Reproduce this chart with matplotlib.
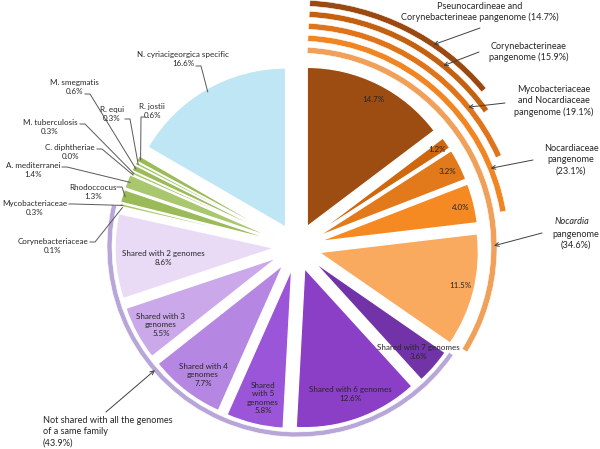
import math
import matplotlib.pyplot as plt
from matplotlib.patches import Wedge

W, H = 600, 449
plt.rcParams['font.family'] = ['Lato', 'DejaVu Sans']

# pie slices, clockwise from 12 o'clock
slice_names = [
    "Pseunocardineae and Corynebacterineae", "Corynebacterineae",
    "Mycobacteriaceae and Nocardiaceae", "Nocardiaceae", "Nocardia",
    "Shared with 7 genomes", "Shared with 6 genomes", "Shared with 5 genomes",
    "Shared with 4 genomes", "Shared with 3 genomes", "Shared with 2 genomes",
    "Corynebacteriaceae", "Mycobacteriaceae", "Rhodoccocus", "A. mediterranei",
    "C. diphtheriae", "M. tuberculosis", "M. smegmatis", "R. equi", "R. jostii",
    "N. cyriacigeorgica specific",
]
slice_values = [14.7, 1.2, 3.2, 4.0, 11.5,
                3.6, 12.6, 5.8, 7.7, 5.5, 8.6,
                0.1, 0.3, 1.3, 1.4, 0.0, 0.3, 0.6, 0.3, 0.6,
                16.6]
slice_colors = ["#9e4d12", "#cf670f", "#e27a1b", "#f68a22", "#f9aa5e",
                "#7233a8", "#8b3ec6", "#9b55d8", "#b586e2", "#caa8ea", "#e9dbf6",
                "#9bbb59", "#a9c76c", "#9bbb59", "#a9c76c", "#9bbb59",
                "#a9c76c", "#9bbb59", "#a9c76c", "#9bbb59",
                "#bfe6f4"]

# labels drawn inside the first 11 slices
inner_texts = ["14.7%", "1.2%", "3.2%", "4.0%", "11.5%",
               "Shared with 7 genomes\n3.6%", "Shared with 6 genomes\n12.6%",
               "Shared\nwith 5\ngenomes\n5.8%", "Shared with 4\ngenomes\n7.7%",
               "Shared with 3\ngenomes\n5.5%", "Shared with 2 genomes\n8.6%"]

# cumulative pangenome rings (start at 12 o'clock)
ring_labels = ["Pseunocardineae and\nCorynebacterineae pangenome (14.7%)",
               "Corynebacterineae\npangenome (15.9%)",
               "Mycobacteriaceae\nand Nocardiaceae\npangenome (19.1%)",
               "Nocardiaceae\npangenome\n(23.1%)",
               "pangenome\n(34.6%)"]
ring_values = [14.7, 15.9, 19.1, 23.1, 34.6]
ring_colors = ["#9a4a10", "#c2610f", "#e0741a", "#f08522", "#f0a058"]

shared_label = "Not shared with all the genomes\nof a same family\n(43.9%)"
shared_start = 34.6
shared_value = 43.9

# geometry (pixels, y up)
CX, CY = 297, H - 247
R = 159
EXPLODE = 23


def img(x, y):
    return (x, H - y)


def polar(r, ang):
    a = math.radians(ang)
    return (CX + r * math.cos(a), CY + r * math.sin(a))


fig = plt.figure(figsize=(6, 4.49), dpi=100)
ax = fig.add_axes([0, 0, 1, 1])

total = sum(slice_values)
ax.pie(slice_values, colors=slice_colors, startangle=90, counterclock=False,
       explode=[EXPLODE] * len(slice_values), radius=R, center=(CX, CY),
       wedgeprops=dict(edgecolor="white", linewidth=0.9), frame=True)

cum = 0
mids = []
for v in slice_values:
    mids.append(90 - 360 * (cum + v / 2) / total)
    cum += v

# --- inner labels ---
inner_pos = [(373, 99), (437, 150), (447, 172), (461, 207), (460, 285),
             (418, 352), (350, 394), (263, 398), (203, 375), (161, 325), (163, 258)]
for txt, (x, y) in zip(inner_texts, inner_pos):
    ax.text(*img(x, y), txt, ha="center", va="center", fontsize=5.8,
            color="#262626", linespacing=1.25)

# --- outer labels with leader lines ---
outer_idx = list(range(11, 21))
outer_pos = {  # label centre, leader start
    11: ((53, 246), (90, 242)),
    12: ((35, 208), (69, 204)),
    13: ((93, 192), (117, 187)),
    14: ((33, 170), (62, 167)),
    15: ((70, 152), (97, 149)),
    16: ((50, 127), (80, 124)),
    17: ((74, 87), (85, 94)),
    18: ((112, 114), (125, 119)),
    19: ((152, 111), (145, 117)),
    20: ((183, 59), (196, 66)),
}
for i in outer_idx:
    (lx, ly), (sx, sy) = outer_pos[i]
    ax.text(*img(lx, ly), f"{slice_names[i]}\n{slice_values[i]:.1f}%",
            ha="center", va="center", fontsize=5.8, color="#262626", linespacing=1.3)
    step = 5 if sx > lx else -4
    p0 = img(sx, sy)
    p1 = img(sx + step, sy)
    p2 = polar(R + EXPLODE - 3, mids[i])
    ax.plot([p0[0], p1[0], p2[0]], [p0[1], p1[1], p2[1]], color="#595959", lw=0.7)

# --- pangenome rings ---
ring_radii = [247, 236, 224, 212, 200]
ring_arrow_frac = [0.66, 0.70, 0.76, 0.84, 0.73]
ring_text_pos = [(480, 12), (529, 52), (554, 101), (571, 160), (576, 240)]
ring_arrow_start = [(480, 28), (479, 52), (505, 103), (533, 160), (542, 233)]
PAD = 3
for lbl, v, col, r, fr, tp, st in zip(ring_labels, ring_values, ring_colors, ring_radii,
                                      ring_arrow_frac, ring_text_pos, ring_arrow_start):
    a_start = 90 - PAD
    a_end = 90 - 360 * v / total + PAD
    ax.add_patch(Wedge((CX, CY), r, a_end, a_start, width=6, facecolor=col,
                       edgecolor="#ffffff", linewidth=0.4))
    a_arrow = a_start + (a_end - a_start) * fr
    ax.annotate("", xy=polar(r - 3, a_arrow), xytext=img(*st),
                arrowprops=dict(arrowstyle="->", color="#404040", lw=0.7,
                                shrinkA=0, shrinkB=0, mutation_scale=7))
    ax.text(*img(*tp), lbl, ha="center", va="center", fontsize=6.6,
            color="#262626", linespacing=1.3)
ax.text(*img(572, 222), "Nocardia", ha="center", va="center", fontsize=6.6,
        style="italic", color="#262626")

# --- not-shared ring ---
a0 = 90 - 360 * shared_start / total
a1 = 90 - 360 * (shared_start + shared_value) / total
ax.add_patch(Wedge((CX, CY), 190, a1, a0, width=5, facecolor="#b9a6d8",
                   edgecolor="#ffffff", linewidth=0.4))
a_arrow = a0 + (a1 - a0) * 0.66
ax.annotate("", xy=polar(188, a_arrow), xytext=img(106, 412),
            arrowprops=dict(arrowstyle="->", color="#404040", lw=0.7,
                            shrinkA=0, shrinkB=0, mutation_scale=7))
ax.text(*img(43, 432), shared_label, ha="left", va="center", fontsize=6.6,
        color="#262626", linespacing=1.35)

ax.set_xlim(0, W)
ax.set_ylim(0, H)
ax.set_aspect("equal")
ax.axis("off")

fig.savefig("out.png", dpi=100, facecolor="white")
